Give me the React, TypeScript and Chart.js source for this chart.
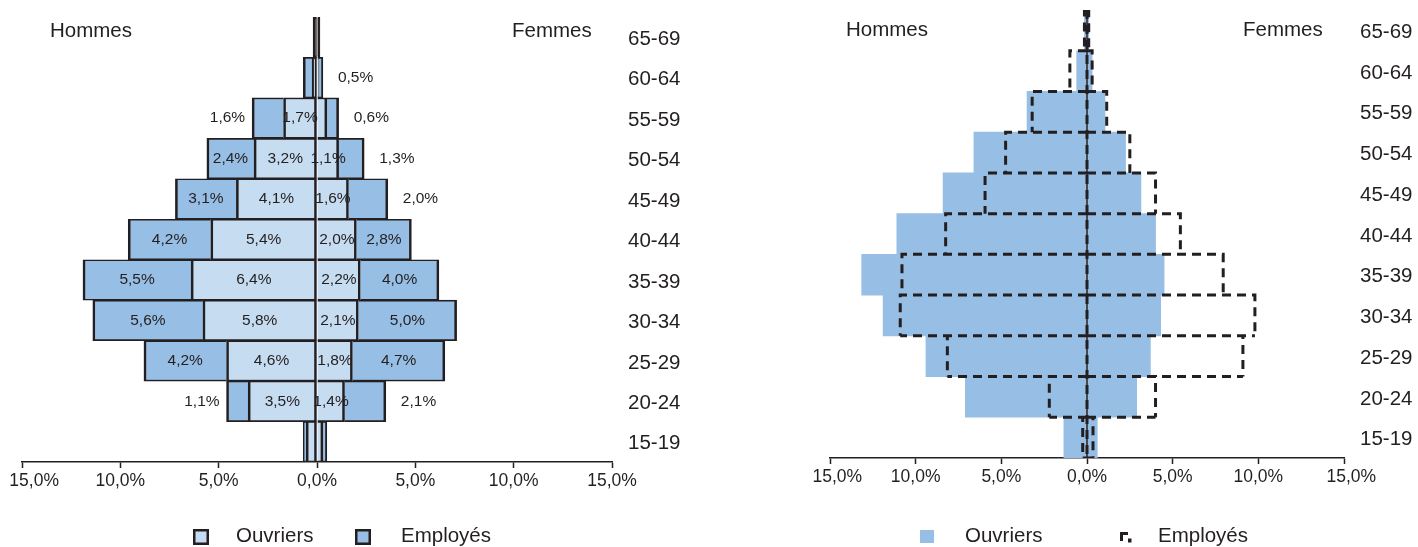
import React, { useEffect, useRef } from 'react';
import { Chart, registerables } from 'chart.js';

Chart.register(...registerables);

const FONT = '"Liberation Sans", Arial, Helvetica, sans-serif';
const INK = '#231f20';
const LIGHT_BLUE = '#c6dcf1';
const MID_BLUE = '#97bee4';

// Age groups, bottom (index 0) to top
const ageGroups = ['15-19', '20-24', '25-29', '30-34', '35-39', '40-44', '45-49', '50-54', '55-59', '60-64', '65-69'];
const xTickValues = [-15, -10, -5, 0, 5, 10, 15];

// Left pyramid: share of total (%)
const hommesOuvriers = [0.55, 3.5, 4.6, 5.8, 6.4, 5.4, 4.1, 3.2, 1.7, 0.25, 0.1];
const hommesEmployes = [0.15, 1.1, 4.2, 5.6, 5.5, 4.2, 3.1, 2.4, 1.6, 0.45, 0.1];
const femmesOuvriers = [0.3, 1.4, 1.8, 2.1, 2.2, 2.0, 1.6, 1.1, 0.5, 0.1, 0.1];
const femmesEmployes = [0.2, 2.1, 4.7, 5.0, 4.0, 2.8, 2.0, 1.3, 0.6, 0.2, 0.05];

// Left pyramid value labels
const lblHommesOuvriers = ['', '3,5%', '4,6%', '5,8%', '6,4%', '5,4%', '4,1%', '3,2%', '1,7%', '', ''];
const lblHommesEmployes = ['', '1,1%', '4,2%', '5,6%', '5,5%', '4,2%', '3,1%', '2,4%', '1,6%', '', ''];
const lblFemmesOuvriers = ['', '1,4%', '1,8%', '2,1%', '2,2%', '2,0%', '1,6%', '1,1%', '', '', ''];
const lblFemmesEmployes = ['', '2,1%', '4,7%', '5,0%', '4,0%', '2,8%', '2,0%', '1,3%', '0,6%', '0,5%', ''];

// Right pyramid: share within each category (%)
const hommesOuvriersR = [1.35, 7.1, 9.4, 11.9, 13.15, 11.1, 8.4, 6.6, 3.5, 0.6, 0.15];
const femmesOuvriersR = [0.6, 2.9, 3.7, 4.3, 4.5, 4.0, 3.15, 2.25, 1.05, 0.3, 0.1];
const hommesEmployesR = [0.25, 2.2, 8.15, 10.9, 10.8, 8.25, 5.95, 4.75, 3.2, 1.0, 0.15];
const femmesEmployesR = [0.35, 4.0, 9.1, 9.8, 7.95, 5.45, 4.0, 2.5, 1.15, 0.3, 0.1];

const idx = ageGroups.map((_, i) => i);
const topIndex = ageGroups.length - 1;

function fmtTick(v: number, pad: string, padValues: number[]) {
  const s = Math.abs(v).toFixed(1).replace('.', ',') + '%';
  return padValues.includes(v) ? pad + s : s;
}

function xScale(height: number, pad: string, padValues: number[], stacked: boolean) {
  return {
    type: 'linear' as const,
    min: -15,
    max: 15,
    stacked,
    afterBuildTicks: (s: any) => {
      s.ticks = xTickValues.map((v) => ({ value: v }));
    },
    afterFit: (s: any) => {
      s.height = height;
      s.paddingLeft = 0;
      s.paddingRight = 0;
    },
    ticks: {
      callback: (v: any) => fmtTick(Number(v), pad, padValues),
      font: { family: FONT, size: 17.5 },
      color: INK,
      padding: 3,
      maxRotation: 0,
      autoSkip: false,
    },
    grid: { drawOnChartArea: false, drawTicks: true, tickLength: 6, tickColor: INK, tickWidth: 1.5 },
    border: { display: true, color: INK, width: 1.5 },
  };
}

function yScale(width: number, stacked: boolean) {
  return {
    type: 'linear' as const,
    position: 'right' as const,
    min: -0.5,
    max: 10.5,
    offset: false,
    stacked,
    afterBuildTicks: (s: any) => {
      s.ticks = idx.map((v) => ({ value: v }));
    },
    afterFit: (s: any) => {
      s.width = width;
      s.paddingTop = 0;
      s.paddingBottom = 0;
    },
    ticks: {
      callback: (v: any) => ageGroups[Number(v)] ?? '',
      font: { family: FONT, size: 20.5 },
      color: INK,
      padding: 16,
      labelOffset: 2,
      autoSkip: false,
    },
    grid: { display: false, drawTicks: false, offset: false },
    border: { display: false },
  };
}

function drawText(ctx: CanvasRenderingContext2D, txt: string, x: number, y: number, size: number, align: CanvasTextAlign) {
  ctx.font = `${size}px ${FONT}`;
  ctx.fillStyle = INK;
  ctx.textAlign = align;
  ctx.textBaseline = 'middle';
  ctx.fillText(txt, x, y);
}

function LeftPyramid() {
  const ref = useRef<HTMLCanvasElement>(null);
  useEffect(() => {
    const labelSpecs = [
      { ds: 0, labels: lblHommesOuvriers, values: hommesOuvriers, outer: false, side: -1 },
      { ds: 1, labels: lblHommesEmployes, values: hommesEmployes, outer: true, side: -1 },
      { ds: 2, labels: lblFemmesOuvriers, values: femmesOuvriers, outer: false, side: 1 },
      { ds: 3, labels: lblFemmesEmployes, values: femmesEmployes, outer: true, side: 1 },
    ];
    const decor = {
      id: 'leftDecor',
      afterDatasetsDraw(chart: any) {
        const ctx = chart.ctx as CanvasRenderingContext2D;
        ctx.save();
        labelSpecs.forEach((sp) => {
          const meta = chart.getDatasetMeta(sp.ds);
          meta.data.forEach((bar: any, i: number) => {
            const txt = sp.labels[i];
            if (!txt) return;
            const { x, y, base } = bar.getProps(['x', 'y', 'base'], true);
            if (sp.outer && sp.values[i] < 2.3) {
              if (sp.side < 0) drawText(ctx, txt, x - 7, y, 15.5, 'right');
              else drawText(ctx, txt, x + 15, y, 15.5, 'left');
            } else {
              drawText(ctx, txt, (x + base) / 2, y, 15.5, 'center');
            }
          });
        });
        ctx.restore();
      },
      afterDraw(chart: any) {
        const ctx = chart.ctx as CanvasRenderingContext2D;
        ctx.save();
        drawText(ctx, 'Hommes', 50, 31, 20.5, 'left');
        drawText(ctx, 'Femmes', 512, 31, 20.5, 'left');
        // legend
        const boxes = [
          { x: 193, color: LIGHT_BLUE, text: 'Ouvriers', tx: 236 },
          { x: 355, color: MID_BLUE, text: 'Employés', tx: 401 },
        ];
        boxes.forEach((b) => {
          ctx.fillStyle = INK;
          ctx.fillRect(b.x, 529, 16, 16);
          ctx.fillStyle = b.color;
          ctx.fillRect(b.x + 2.5, 531.5, 11, 11);
          drawText(ctx, b.text, b.tx, 536, 20.5, 'left');
        });
        ctx.restore();
      },
    };
    // the very thin top bars are swallowed by their outline in the reference
    const fillFor = (color: string) => (c: any) => (c.dataIndex === topIndex ? INK : color);
    const barBase = {
      borderColor: INK,
      borderWidth: { top: 1.6, bottom: 1.6, left: 2.6, right: 2.6 },
      barPercentage: 1,
      categoryPercentage: 1,
      stack: 'pyr',
    };
    const chart = new Chart(ref.current as HTMLCanvasElement, {
      type: 'bar',
      data: {
        datasets: [
          { ...barBase, label: 'Ouvriers', data: idx.map((i) => ({ x: -hommesOuvriers[i], y: i })), backgroundColor: fillFor(LIGHT_BLUE), borderSkipped: false },
          { ...barBase, label: 'Employés', data: idx.map((i) => ({ x: -hommesEmployes[i], y: i })), backgroundColor: fillFor(MID_BLUE), borderSkipped: 'start' },
          { ...barBase, label: 'Ouvriers', data: idx.map((i) => ({ x: femmesOuvriers[i], y: i })), backgroundColor: fillFor(LIGHT_BLUE), borderSkipped: 'start' },
          { ...barBase, label: 'Employés', data: idx.map((i) => ({ x: femmesEmployes[i], y: i })), backgroundColor: fillFor(MID_BLUE), borderSkipped: 'start' },
        ] as any,
      },
      options: {
        indexAxis: 'y',
        animation: false,
        responsive: false,
        events: [],
        layout: { padding: { left: 22, top: 17, right: 0, bottom: 0 } },
        plugins: { legend: { display: false }, tooltip: { enabled: false } },
        scales: {
          x: xScale(85, '     ', [-15], true) as any,
          y: yScale(97, true) as any,
        },
      },
      plugins: [decor],
    });
    return () => chart.destroy();
  }, []);
  return (
    <canvas
      ref={ref}
      width={709}
      height={547}
      style={{ position: 'absolute', left: 0, top: 0, width: 709, height: 547 }}
    />
  );
}

// Dashed outline of each bar: every edge starts at the zero line so that
// shared edges of neighbouring rows keep the same dash phase.
function outlinePath(values: number[], sign: number, withAxis: boolean) {
  const pts: any[] = [];
  values.forEach((v, i) => {
    pts.push({ x: 0, y: i + 0.5 });
    pts.push({ x: sign * v, y: i + 0.5 });
    pts.push({ x: sign * v, y: i - 0.5 });
    pts.push({ x: null, y: null });
    pts.push({ x: 0, y: i - 0.5 });
    pts.push({ x: sign * v, y: i - 0.5 });
    pts.push({ x: null, y: null });
  });
  if (withAxis) {
    pts.push({ x: 0, y: 10.5 });
    pts.push({ x: 0, y: -0.5 });
  }
  return pts;
}

function RightPyramid() {
  const ref = useRef<HTMLCanvasElement>(null);
  useEffect(() => {
    const decor = {
      id: 'rightDecor',
      afterDraw(chart: any) {
        const ctx = chart.ctx as CanvasRenderingContext2D;
        ctx.save();
        drawText(ctx, 'Hommes', 137, 30, 20.5, 'left');
        drawText(ctx, 'Femmes', 534, 30, 20.5, 'left');
        // legend
        ctx.fillStyle = MID_BLUE;
        ctx.fillRect(211, 530, 14, 13);
        drawText(ctx, 'Ouvriers', 256, 536, 20.5, 'left');
        ctx.fillStyle = INK;
        ctx.fillRect(411, 532, 8, 3);
        ctx.fillRect(411, 532, 3, 9);
        ctx.fillRect(419, 538.5, 3.5, 4);
        drawText(ctx, 'Employés', 449, 536, 20.5, 'left');
        ctx.restore();
      },
    };
    const dashed = {
      type: 'line',
      borderColor: INK,
      borderWidth: 3,
      borderDash: [9, 6],
      borderCapStyle: 'butt',
      pointRadius: 0,
      fill: false,
      spanGaps: false,
      tension: 0,
      order: 0,
    };
    const bars = { type: 'bar', backgroundColor: MID_BLUE, borderWidth: 0, grouped: false, barPercentage: 1, categoryPercentage: 1, order: 2 };
    const chart = new Chart(ref.current as HTMLCanvasElement, {
      type: 'bar',
      data: {
        datasets: [
          { ...dashed, label: 'Employés (hommes)', data: outlinePath(hommesEmployesR, -1, true) },
          { ...dashed, label: 'Employés (femmes)', data: outlinePath(femmesEmployesR, 1, false) },
          {
            type: 'line',
            label: 'axe',
            data: [
              { x: 0, y: -0.5 },
              { x: 0, y: 10.5 },
            ],
            borderColor: INK,
            borderWidth: 1.5,
            pointRadius: 0,
            fill: false,
            order: 1,
          },
          { ...bars, label: 'Ouvriers (hommes)', data: idx.map((i) => ({ x: -hommesOuvriersR[i], y: i })) },
          { ...bars, label: 'Ouvriers (femmes)', data: idx.map((i) => ({ x: femmesOuvriersR[i], y: i })) },
        ] as any,
      },
      options: {
        indexAxis: 'y',
        animation: false,
        responsive: false,
        events: [],
        layout: { padding: { left: 121, top: 10, right: 0, bottom: 0 } },
        plugins: { legend: { display: false }, tooltip: { enabled: false } },
        scales: {
          x: xScale(89, '   ', [-15, 15], false) as any,
          y: yScale(74, false) as any,
        },
      },
      plugins: [decor],
    });
    return () => chart.destroy();
  }, []);
  return (
    <canvas
      ref={ref}
      width={709}
      height={547}
      style={{ position: 'absolute', left: 709, top: 0, width: 709, height: 547 }}
    />
  );
}

export default function App() {
  return (
    <div style={{ position: 'absolute', left: 0, top: 0, width: 1418, height: 547, background: '#ffffff', overflow: 'hidden' }}>
      <LeftPyramid />
      <RightPyramid />
    </div>
  );
}
